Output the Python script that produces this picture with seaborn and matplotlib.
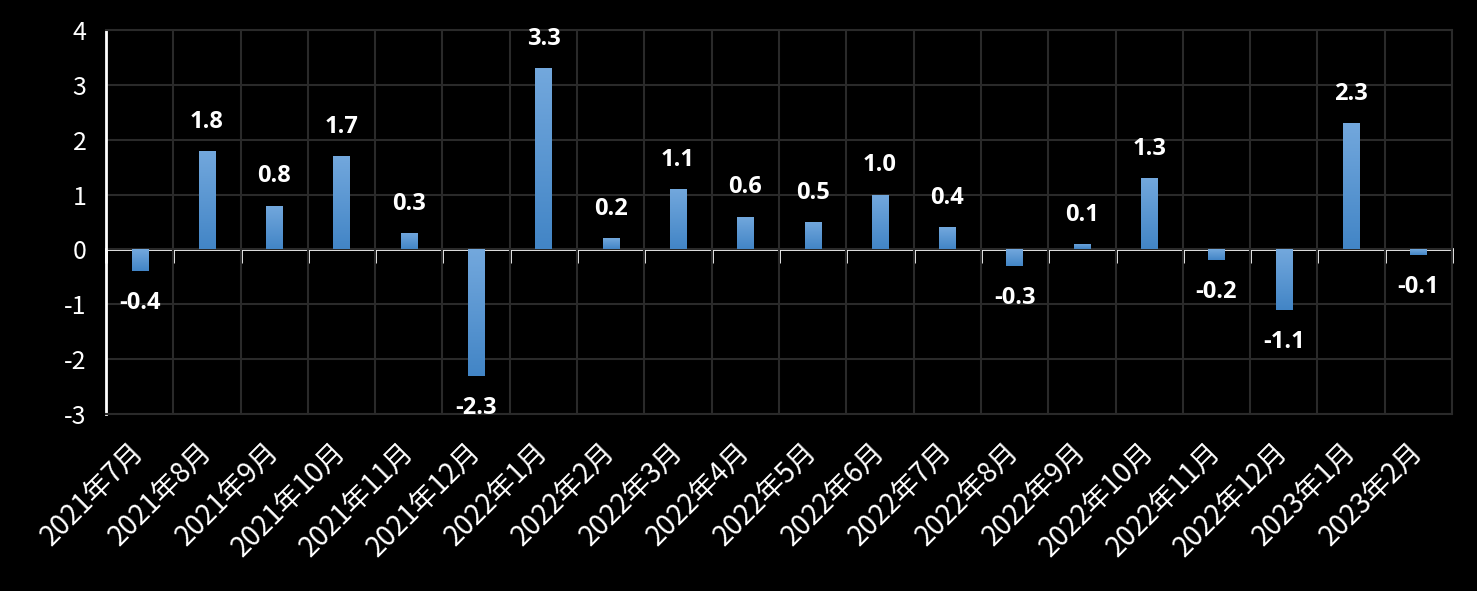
import numpy as np
import pandas as pd
import matplotlib
matplotlib.use('Agg')
import matplotlib.pyplot as plt
import seaborn as sns
from matplotlib.colors import LinearSegmentedColormap

months = ['2021年7月', '2021年8月', '2021年9月', '2021年10月', '2021年11月',
          '2021年12月', '2022年1月', '2022年2月', '2022年3月', '2022年4月',
          '2022年5月', '2022年6月', '2022年7月', '2022年8月', '2022年9月',
          '2022年10月', '2022年11月', '2022年12月', '2023年1月', '2023年2月']
values = [-0.4, 1.8, 0.8, 1.7, 0.3, -2.3, 3.3, 0.2, 1.1, 0.6,
          0.5, 1.0, 0.4, -0.3, 0.1, 1.3, -0.2, -1.1, 2.3, -0.1]
y_ticks = [-3, -2, -1, 0, 1, 2, 3, 4]

sns.set_style('dark')
plt.rcParams['font.family'] = ['Noto Sans CJK SC', 'DejaVu Sans']
plt.rcParams['axes.unicode_minus'] = False

df = pd.DataFrame({'month': months, 'value': values})

fig, ax = plt.subplots(figsize=(14.77, 5.91), dpi=100)
fig.patch.set_facecolor('black')
ax.set_facecolor('black')
fig.subplots_adjust(left=106/1477, right=1452/1477, top=1 - 30/591, bottom=1 - 414/591)

sns.barplot(data=df, x='month', y='value', width=0.24, color='#5b9bd5',
            linewidth=0, edgecolor='none', ax=ax, zorder=3)

# vertical gradient on each bar, lighter at top
cmap = LinearSegmentedColormap.from_list('bar', ['#4285c6', '#73a8dd'])
grad = np.linspace(0, 1, 256).reshape(-1, 1)
for patch in ax.patches:
    x0, y0 = patch.get_x(), patch.get_y()
    w, h = patch.get_width(), patch.get_height()
    lo, hi = min(y0, y0 + h), max(y0, y0 + h)
    im = ax.imshow(grad, cmap=cmap, aspect='auto', origin='lower',
                   extent=[x0, x0 + w, lo, hi], zorder=4)
    im.set_clip_path(patch)

ax.set_xlim(-0.5, len(months) - 0.5)
ax.set_ylim(-3, 4)
ax.set_yticks(y_ticks)
ax.set_yticklabels([str(t) for t in y_ticks])
ax.set_xlabel('')
ax.set_ylabel('')

# grid
ax.set_xticks(np.arange(-0.5, len(months), 1), minor=True)
ax.grid(True, which='minor', axis='x', color='#2a2a2a', lw=1.5)
ax.grid(True, which='major', axis='y', color='#2a2a2a', lw=1.5)
ax.grid(False, which='major', axis='x')
for s in ['top', 'right', 'bottom']:
    ax.spines[s].set_visible(True)
    ax.spines[s].set_color('#2a2a2a')
    ax.spines[s].set_linewidth(1.5)
ax.spines['left'].set_visible(True)
ax.spines['left'].set_color('white')
ax.spines['left'].set_linewidth(2)

ax.tick_params(axis='y', colors='white', labelsize=18, length=0, pad=14)
ax.tick_params(axis='x', which='both', length=0, colors='white')
plt.setp(ax.get_xticklabels(), rotation=45, ha='right', va='center',
         rotation_mode='anchor', fontsize=20, color='white')
ax.tick_params(axis='x', pad=24)

# zero axis line with ticks between categories
sec = ax.secondary_xaxis(0, transform=ax.transData)
sec.set_xticks(np.arange(-0.5, len(months), 1))
sec.tick_params(axis='x', length=10, width=2, color='white', labelbottom=False,
                labeltop=False, direction='out')
for s in sec.spines.values():
    s.set_color('white')
    s.set_linewidth(2)

# value labels
for i, v in enumerate(values):
    off = 21 if v >= 0 else -23
    ax.annotate(f'{v:.1f}', (i, v), xytext=(0, off), textcoords='offset points',
                ha='center', va='center',
                fontsize=17, fontweight='bold', color='white',
                family=['Open Sans', 'DejaVu Sans'], zorder=5)

fig.savefig('out.png', dpi=100, facecolor='black')
